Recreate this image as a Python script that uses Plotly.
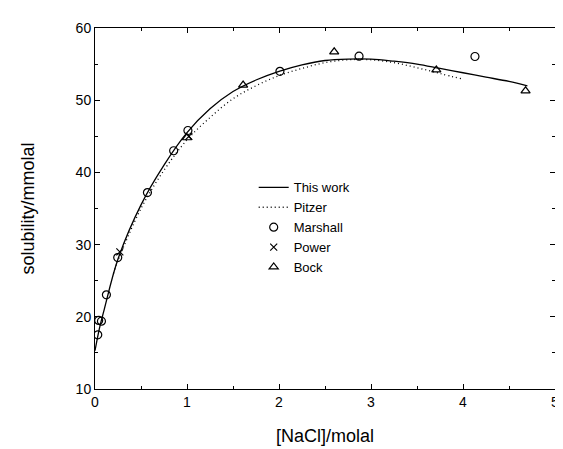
import plotly.graph_objects as go

# "This work" model curve
work_x = [0.0, 0.05, 0.1, 0.25, 0.5, 0.75, 1.0, 1.25, 1.5, 1.75, 2.0, 2.25, 2.5, 2.75, 3.0, 3.25, 3.5, 3.75, 4.0, 4.25, 4.5, 4.7]
work_y = [15.3, 18.5, 21.0, 28.0, 35.5, 41.0, 45.5, 48.8, 51.2, 52.8, 54.0, 54.9, 55.5, 55.7, 55.7, 55.4, 55.0, 54.4, 53.8, 53.2, 52.6, 52.0]

# Pitzer model curve
pitzer_x = [0.2, 0.25, 0.5, 0.75, 1.0, 1.25, 1.5, 1.75, 2.0, 2.25, 2.5, 2.75, 3.0, 3.25, 3.5, 3.75, 4.0]
pitzer_y = [26.0, 27.8, 35.0, 40.3, 44.5, 47.6, 50.2, 52.0, 53.4, 54.4, 55.2, 55.6, 55.6, 55.2, 54.5, 53.7, 52.9]

# Experimental data
marshall_x = [0.03, 0.04, 0.07, 0.124, 0.247, 0.57, 0.855, 1.01, 2.01, 2.87, 4.13]
marshall_y = [17.5, 19.5, 19.4, 23.05, 28.2, 37.2, 43.0, 45.8, 54.0, 56.1, 56.05]

power_x = [0.27, 1.02]
power_y = [29.0, 45.0]

bock_x = [1.0, 1.61, 2.6, 3.71, 4.68]
bock_y = [44.8, 52.1, 56.7, 54.2, 51.3]

x_ticks = [0, 1, 2, 3, 4, 5]
y_ticks = [10, 20, 30, 40, 50, 60]

FONT = "Liberation Sans, Arial, Helvetica, sans-serif"

fig = go.Figure()
fig.add_trace(go.Scatter(x=work_x, y=work_y, mode="lines", name="This work",
                         line=dict(color="black", width=1.3, shape="spline")))
fig.add_trace(go.Scatter(x=pitzer_x, y=pitzer_y, mode="lines", name="Pitzer",
                         line=dict(color="black", width=1.3, dash="1px,3px", shape="spline")))
fig.add_trace(go.Scatter(x=marshall_x, y=marshall_y, mode="markers", name="Marshall",
                         marker=dict(symbol="circle-open", size=8, color="black", line=dict(width=1.2))))
fig.add_trace(go.Scatter(x=power_x, y=power_y, mode="markers", name="Power",
                         marker=dict(symbol="x-thin-open", size=7, color="black", line=dict(width=1.2))))
fig.add_trace(go.Scatter(x=bock_x, y=bock_y, mode="markers", name="Bock",
                         marker=dict(symbol="triangle-up-open", size=8, color="black", line=dict(width=1.2))))

axis_common = dict(showline=True, linecolor="black", linewidth=1, mirror="ticks",
                   ticks="inside", tickcolor="black", ticklen=5, tickwidth=1,
                   showgrid=False, zeroline=False,
                   tickfont=dict(family=FONT, size=14, color="black"),
                   minor=dict(ticks="inside", ticklen=3, tickcolor="black", tickwidth=1))

fig.update_xaxes(range=[0, 5], tickvals=x_ticks, ticktext=[str(v) for v in x_ticks],
                 title=dict(text="[NaCl]/molal", font=dict(family=FONT, size=18, color="black"), standoff=20),
                 **axis_common)
fig.update_xaxes(minor=dict(dtick=0.5))
fig.update_yaxes(range=[10, 60], tickvals=y_ticks, ticktext=[str(v) for v in y_ticks],
                 title=dict(text="solubility/mmolal", font=dict(family=FONT, size=18, color="black"), standoff=36),
                 **axis_common)
fig.update_yaxes(minor=dict(dtick=5))

fig.update_layout(
    width=563, height=449,
    margin=dict(l=87, r=12, t=18, b=68),
    paper_bgcolor="white", plot_bgcolor="white",
    font=dict(family=FONT, color="black"),
    legend=dict(x=0.345, y=0.6, xanchor="left", yanchor="top",
                font=dict(family=FONT, size=13, color="black"),
                bgcolor="rgba(0,0,0,0)", itemwidth=30, tracegroupgap=0),
)

fig.write_html("out.html")
